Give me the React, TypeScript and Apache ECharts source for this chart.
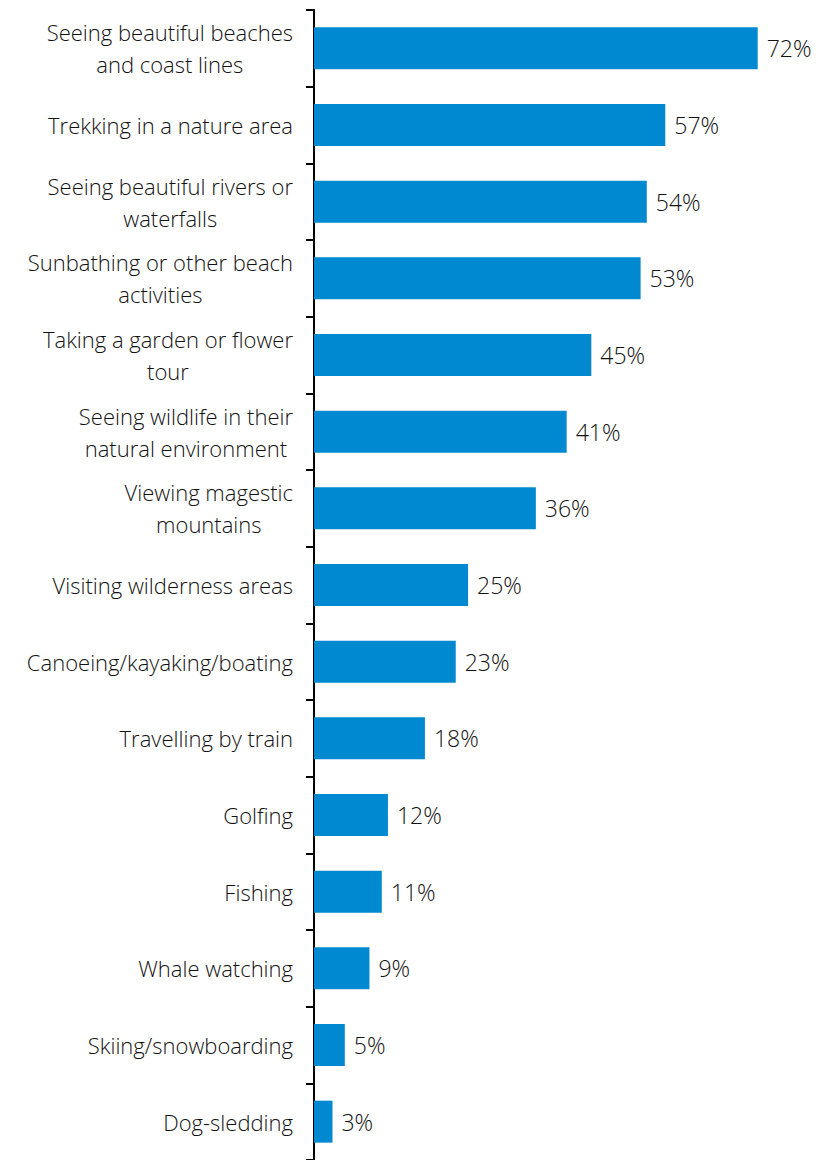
import React, { useEffect, useRef } from "react";
import * as echarts from "echarts";

const categories: string[] = [
  "Seeing beautiful beaches\nand coast lines",
  "Trekking in a nature area",
  "Seeing beautiful rivers or\nwaterfalls",
  "Sunbathing or other beach\nactivities",
  "Taking a garden or flower\ntour",
  "Seeing wildlife in their\nnatural environment",
  "Viewing magestic\nmountains",
  "Visiting wilderness areas",
  "Canoeing/kayaking/boating",
  "Travelling by train",
  "Golfing",
  "Fishing",
  "Whale watching",
  "Skiing/snowboarding",
  "Dog-sledding",
];

const values: number[] = [72, 57, 54, 53, 45, 41, 36, 25, 23, 18, 12, 11, 9, 5, 3];

const FONT = "'Open Sans', 'Liberation Sans', Arial, sans-serif";

export default function App() {
  const ref = useRef<HTMLDivElement>(null);
  useEffect(() => {
    if (!ref.current) return;
    const chart = echarts.init(ref.current, undefined, { renderer: "svg" });
    chart.setOption({
      animation: false,
      backgroundColor: "#ffffff",
      grid: { left: 314, top: 10, width: 493, height: 1153, containLabel: false },
      xAxis: {
        type: "value",
        min: 0,
        max: 80,
        show: false,
      },
      yAxis: {
        type: "category",
        data: categories,
        inverse: true,
        axisLine: { show: true, lineStyle: { color: "#000", width: 2 } },
        axisTick: { show: true, length: 8, lineStyle: { color: "#000", width: 2 } },
        axisLabel: {
          margin: 21,
          color: "#111",
          fontSize: 22,
          fontFamily: FONT,
          fontWeight: 300,
          lineHeight: 32,
          align: "right",
          formatter: (v: string) =>
            v
              .split("\n")
              .map((l) => `{c|${l}}`)
              .join("\n"),
          rich: {
            c: {
              align: "center",
              color: "#111",
              fontSize: 22,
              fontFamily: FONT,
              fontWeight: 300,
              lineHeight: 32,
            },
          },
        },
        splitLine: { show: false },
      },
      series: [
        {
          type: "bar",
          data: values,
          barWidth: 42,
          itemStyle: { color: "#0089D1" },
          label: {
            show: true,
            position: "right",
            distance: 9,
            formatter: "{c}%",
            color: "#111",
            fontSize: 23,
            fontFamily: FONT,
            fontWeight: 300,
          },
        },
      ],
    });
    return () => chart.dispose();
  }, []);
  return (
    <div
      ref={ref}
      style={{ position: "absolute", left: 0, top: 0, width: 818, height: 1160 }}
    />
  );
}
